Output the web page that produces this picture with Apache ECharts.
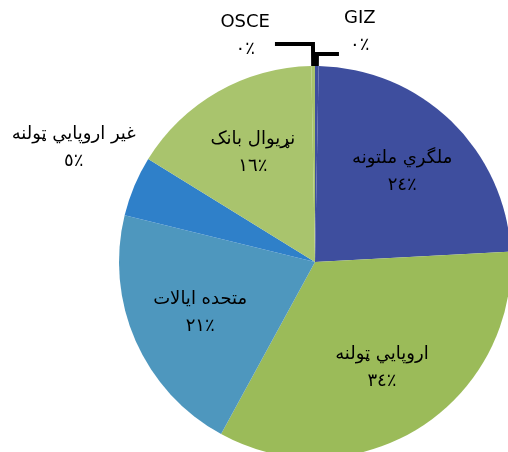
<!DOCTYPE html>
<html>
<head>
	<meta charset="utf-8">
	<title>pie</title>
	<script src="https://cdn.jsdelivr.net/npm/echarts@6/dist/echarts.min.js"></script>
	<style>
		html, body { margin: 0; padding: 0; background: #fff; }
		#main { width: 508px; height: 452px; }
	</style>
</head>
<body>
<div id="main"></div>
<script>
	// 数据
	var names = ['GIZ', 'ملگري ملتونه', 'اروپايي ټولنه', 'متحده ایالات', 'غير اروپايي ټولنه', 'نړیوال بانک', 'OSCE'];
	var values = [0.3, 24, 34, 21, 5, 16, 0.3];
	var colors = ['#3E4E9E', '#3E4E9E', '#9BBB59', '#4E97BE', '#2F80C9', '#A9C46D', '#A9C46D'];

	var arDigits = ['٠', '١', '٢', '٣', '٤', '٥', '٦', '٧', '٨', '٩'];
	function toAr(n) {
		return String(n).split('').map(function (d) { return arDigits[+d]; }).join('') + '٪';
	}
	function pctText(p) {
		return toAr(Math.round(p.percent));
	}

	var font = '"DejaVu Sans", sans-serif';
	var CX = 315, CY = 262, R = 196;

	var mainData = [];
	var labelData = [];
	for (var i = 0; i < names.length; i++) {
		var small = values[i] < 1;
		var outside = small || i === 4;
		var item = {
			name: names[i],
			value: values[i],
			itemStyle: { color: colors[i] },
			label: { show: outside },
			labelLine: { show: small }
		};
		if (i === 0) item.labelLine.length = 12, item.labelLine.length2 = 22;
		if (i === 6) item.labelLine.length = 22, item.labelLine.length2 = 38;
		if (i === 4) item.labelLine.length = 6, item.labelLine.length2 = 0;
		mainData.push(item);
		labelData.push({
			name: names[i],
			value: values[i],
			label: { show: !outside }
		});
	}

	var myChart = echarts.init(document.getElementById('main'));
	var option = {
		animation: false,
		backgroundColor: '#fff',
		series: [
			{
				name: 'main',
				type: 'pie',
				center: [CX, CY],
				radius: [0, R],
				startAngle: 90,
				clockwise: true,
				avoidLabelOverlap: false,
				silent: true,
				label: {
					position: 'outside',
					color: '#000',
					formatter: function (p) {
						return '{c|' + p.name + '}\n{c|' + pctText(p) + '}';
					},
					rich: {
						c: { fontFamily: font, fontSize: 18, lineHeight: 27, color: '#000', align: 'center' }
					}
				},
				labelLine: {
					lineStyle: { color: '#000', width: 4 },
					smooth: false
				},
				labelLayout: function (p) {
					// 把"غير اروپايي ټولنه"标签挪到扇形上方
					if (p.dataIndex === 4) return { dx: 12, dy: -36 };
					if (p.dataIndex === 6) return { dy: -8 };
					if (p.dataIndex === 0) return { dy: -22 };
				},
				data: mainData
			},
			{
				// 只用来放扇形内部的标签
				name: 'labels',
				type: 'pie',
				center: [CX, CY],
				radius: [0, R * 1.25],
				startAngle: 90,
				avoidLabelOverlap: false,
				silent: true,
				itemStyle: { color: 'rgba(0,0,0,0)' },
				label: {
					position: 'inside',
					color: '#000',
					fontFamily: font,
					fontSize: 18,
					lineHeight: 27,
					formatter: function (p) {
						return p.name + '\n' + pctText(p);
					}
				},
				labelLine: { show: false },
				data: labelData
			}
		]
	};
	myChart.setOption(option);
</script>
</body>
</html>
